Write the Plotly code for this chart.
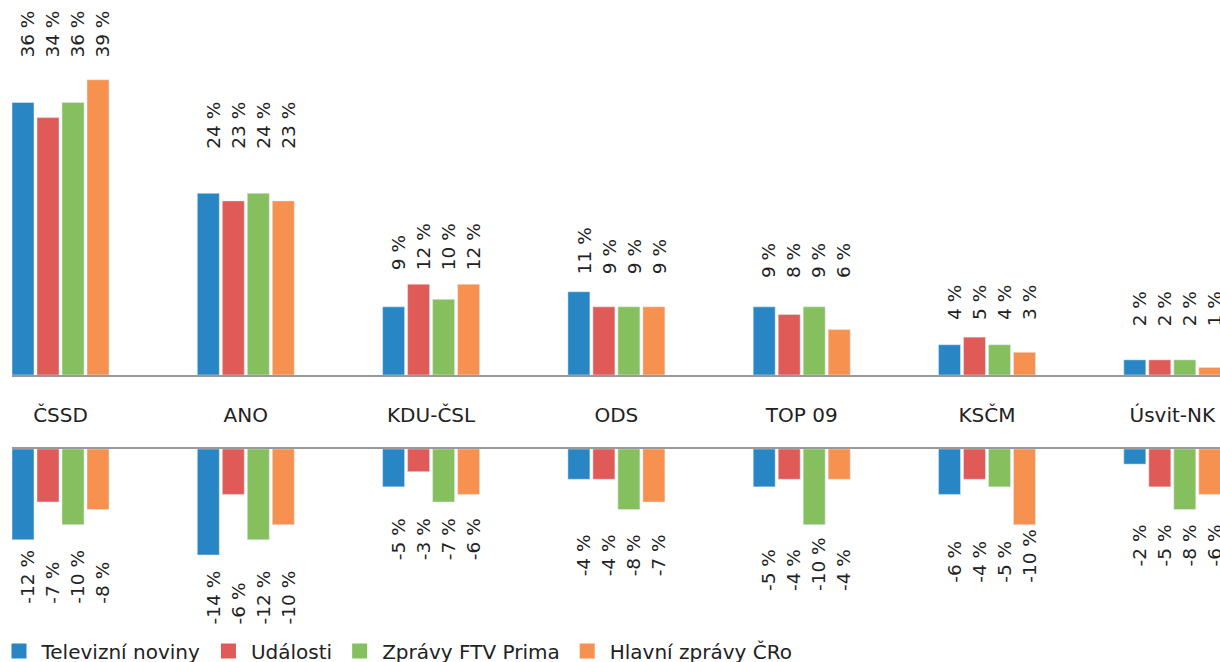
import plotly.graph_objects as go

# ---------------- data ----------------
categories = ["ČSSD", "ANO", "KDU-ČSL", "ODS", "TOP 09", "KSČM", "Úsvit-NK"]
series_names = ["Televizní noviny", "Události", "Zprávy FTV Prima", "Hlavní zprávy ČRo"]

positive_tv = [36, 24, 9, 11, 9, 4, 2]
positive_udalosti = [34, 23, 12, 9, 8, 5, 2]
positive_prima = [36, 24, 10, 9, 9, 4, 2]
positive_cro = [39, 23, 12, 9, 6, 3, 1]

negative_tv = [-12, -14, -5, -4, -5, -6, -2]
negative_udalosti = [-7, -6, -3, -4, -4, -4, -5]
negative_prima = [-10, -12, -7, -8, -10, -5, -8]
negative_cro = [-8, -10, -6, -7, -4, -10, -6]

positive = [positive_tv, positive_udalosti, positive_prima, positive_cro]
negative = [negative_tv, negative_udalosti, negative_prima, negative_cro]

# ---------------- style / layout ----------------
colors = ["#2986C4", "#E05A57", "#86C05E", "#F6914F"]
FONT = "DejaVu Sans"
TEXT_COLOR = "#222222"
W, H = 1220, 662
B = 30                       # bottom margin reserved for the legend
PH = H - B                   # plot-area height
PX_PER_UNIT = 7.57           # vertical scale (px per percentage point)
TOP_BASE_PX = 375            # y pixel of the upper baseline
BOT_BASE_PX = 449            # y pixel of the lower baseline
X_LEFT_PX = 12               # left edge of the x axes
FIRST_CENTER_PX = 60.5       # pixel centre of first category
CAT_PITCH_PX = 185.3         # pixels per category
BARGAP = 0.4603
BARGROUPGAP = 0.12
LABEL_SIZE = 18.5
# extra room between group extreme and its label block (percentage units)
label_lift_top = [2.6, 5.6, 1.6, 2.1, 3.5, 2.0, 4.2]
label_lift_bottom = [8.7, 9.4, 8.0, 9.1, 9.0, 8.0, 7.8]

top_domain = [1 - TOP_BASE_PX / PH, 1]
bot_domain = [0, 1 - BOT_BASE_PX / PH]
top_range = [0, TOP_BASE_PX / PX_PER_UNIT]
bot_range = [-(PH - BOT_BASE_PX) / PX_PER_UNIT, 0]
x_left = -(FIRST_CENTER_PX - X_LEFT_PX) / CAT_PITCH_PX
x_range = [x_left, x_left + (W - X_LEFT_PX) / CAT_PITCH_PX]

fig = go.Figure()
for i, name in enumerate(series_names):
    fig.add_trace(go.Bar(x=categories, y=positive[i], name=name, marker_color=colors[i],
                         legendgroup=name, showlegend=False, xaxis="x", yaxis="y",
                         hoverinfo="skip"))
    fig.add_trace(go.Bar(x=categories, y=negative[i], name=name, marker_color=colors[i],
                         legendgroup=name, showlegend=False, xaxis="x2", yaxis="y2",
                         hoverinfo="skip"))
# legend entries with larger square swatches
for i, name in enumerate(series_names):
    fig.add_trace(go.Scatter(x=[None], y=[None], mode="markers", name=name,
                             legendgroup=name, showlegend=True,
                             marker=dict(symbol="square", size=15, color=colors[i]),
                             xaxis="x", yaxis="y", hoverinfo="skip"))

slot = (1 - BARGAP) / len(series_names)
annotations = []
for j in range(len(categories)):
    top_pos = max(s[j] for s in positive) + label_lift_top[j]
    bot_pos = min(s[j] for s in negative) - label_lift_bottom[j]
    for i in range(len(series_names)):
        xpos = j + (i - (len(series_names) - 1) / 2) * slot
        annotations.append(dict(x=xpos, y=top_pos, xref="x", yref="y",
                                text=f"{positive[i][j]} %", textangle=-90,
                                xanchor="center", yanchor="bottom", showarrow=False,
                                xshift=5,
                                font=dict(family=FONT, size=LABEL_SIZE, color=TEXT_COLOR)))
        annotations.append(dict(x=xpos, y=bot_pos, xref="x2", yref="y2",
                                text=f"{negative[i][j]} %", textangle=-90,
                                xanchor="center", yanchor="bottom", showarrow=False,
                                xshift=5,
                                font=dict(family=FONT, size=LABEL_SIZE, color=TEXT_COLOR)))

axis_common = dict(range=x_range, domain=[X_LEFT_PX / W, 1], showgrid=False,
                   zeroline=False, showline=True, linecolor="#999999", linewidth=2,
                   fixedrange=True)

fig.update_layout(
    width=W, height=H,
    margin=dict(l=0, r=0, t=0, b=B, autoexpand=False),
    paper_bgcolor="white", plot_bgcolor="white",
    barmode="group", bargap=BARGAP, bargroupgap=BARGROUPGAP,
    font=dict(family=FONT, color=TEXT_COLOR),
    xaxis=dict(**axis_common, anchor="y", side="bottom", showticklabels=True,
               ticks="", ticklabelstandoff=21,
               tickfont=dict(family=FONT, size=20, color=TEXT_COLOR)),
    yaxis=dict(domain=top_domain, range=top_range, visible=False, fixedrange=True),
    xaxis2=dict(**axis_common, anchor="y2", side="top", showticklabels=False),
    yaxis2=dict(domain=bot_domain, range=bot_range, visible=False, fixedrange=True),
    legend=dict(orientation="h", x=-3.5 / W, xanchor="left",
                y=-(651 - PH) / PH, yanchor="middle",
                font=dict(family=FONT, size=20, color=TEXT_COLOR),
                itemclick=False, itemdoubleclick=False, tracegroupgap=0,
                itemwidth=35, itemsizing="trace", bgcolor="rgba(0,0,0,0)"),
    annotations=annotations,
    showlegend=True,
)

fig.write_html("out.html", config={"displayModeBar": False},
               post_script="document.body.style.margin='0';")
